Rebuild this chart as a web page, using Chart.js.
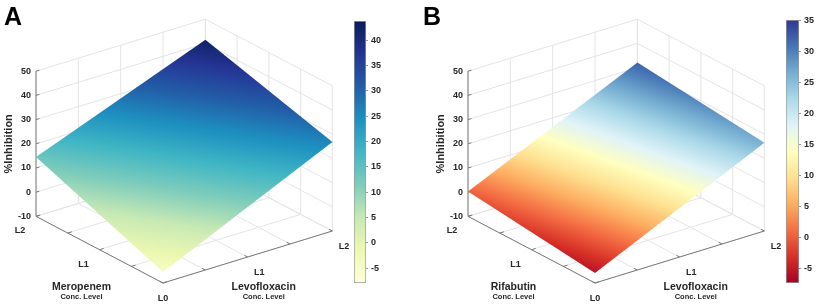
<!DOCTYPE html>
<html>
<head>
<meta charset="utf-8">
<script src="https://cdn.jsdelivr.net/npm/chart.js@4.4.1/dist/chart.umd.min.js"></script>
<style>
  body { margin: 0; background: #fff; }
  #wrap { position: relative; width: 819px; height: 307px; }
  canvas { position: absolute; top: 0; }
</style>
</head>
<body>
<div id="wrap">
  <canvas id="main" width="819" height="307" style="left:0"></canvas>
  <canvas id="cbarA" width="50" height="307" style="left:354px"></canvas>
  <canvas id="cbarB" width="50" height="307" style="left:786px"></canvas>
</div>
<script>
// ---- data ----
const levelLabels = ["L0", "L1", "L2"];
const levelPos = [0, 1, 2];
const gridPos = [0, 0.5, 1, 1.5, 2];
const zTicks = [-10, 0, 10, 20, 30, 40, 50];
const zMin = -10, zMax = 50;

// surface %inhibition at corner levels: rows = drug L0, L2 ; cols = Levofloxacin L0, L2
const cornerPos = [0, 2];
const meropenemZ = [[-5.5, 26.8], [14.5, 41.5]];
const rifabutinZ = [[-5.9, 26.5], [0.3, 32.1]];

// colour limits + colourbar ticks
const meropenemClim = [-7.9, 43.8];
const rifabutinClim = [-7.4, 35.1];
const cbarTicksA = [-5, 0, 5, 10, 15, 20, 25, 30, 35, 40];
const cbarTicksB = [-5, 0, 5, 10, 15, 20, 25, 30, 35];

// colormaps (low -> high)
const YLGNBU = ["#ffffd9", "#edf8b1", "#c7e9b4", "#7fcdbb", "#41b6c4", "#1d91c0", "#225ea8", "#253494", "#081d58"];
const RDYLBU = ["#a50026", "#d73027", "#f46d43", "#fdae61", "#fee090", "#ffffbf", "#e0f3f8", "#abd9e9", "#74add1", "#4575b4", "#313695"];

const FONT = "'Liberation Sans', Arial, sans-serif";
Chart.defaults.font.family = FONT;

// ---- 3d view (orthographic, px per unit) ----
const EU = [-63.5, -33.3];   // drug level axis
const EV = [84.7, -26.0];    // levofloxacin level axis
const EZ = 2.42;             // per %inhibition unit

const panels = [
  { ox: 163, oy: 283, drug: "Meropenem", z: meropenemZ, clim: meropenemClim, cmap: YLGNBU, letter: "A", letterX: 4 },
  { ox: 595, oy: 283, drug: "Rifabutin", z: rifabutinZ, clim: rifabutinClim, cmap: RDYLBU, letter: "B", letterX: 423 }
];

function project(P, u, v, z) {
  return { x: P.ox + u * EU[0] + v * EV[0], y: P.oy + u * EU[1] + v * EV[1] - (z - zMin) * EZ };
}
const GAP = { x: null, y: null };

function gridData(P) {
  const d = [];
  zTicks.forEach(z => { d.push(project(P, 2, 0, z), project(P, 2, 2, z), project(P, 0, 2, z), GAP); });
  gridPos.forEach(v => { d.push(project(P, 2, v, zMin), project(P, 2, v, zMax), GAP); });
  gridPos.forEach(u => { d.push(project(P, u, 2, zMin), project(P, u, 2, zMax), GAP); });
  gridPos.forEach(u => { d.push(project(P, u, 0, zMin), project(P, u, 2, zMin), GAP); });
  gridPos.forEach(v => { d.push(project(P, 0, v, zMin), project(P, 2, v, zMin), GAP); });
  return d;
}

function axisData(P) {
  const d = [];
  d.push(project(P, 2, 0, zMin), project(P, 2, 0, zMax), GAP);
  d.push(project(P, 2, 0, zMin), project(P, 0, 0, zMin), project(P, 0, 2, zMin), GAP);
  zTicks.forEach(z => { d.push(project(P, 2, 0, z), project(P, 2, 0.04, z), GAP); });
  gridPos.forEach(u => { d.push(project(P, u, 0, zMin), project(P, u, 0.05, zMin), GAP); });
  gridPos.forEach(v => { d.push(project(P, 0, v, zMin), project(P, 0.05, v, zMin), GAP); });
  return d;
}

// colour gradient from the least-squares plane z = A*x + B*y + C over the surface corners (pixel space)
function surfGradient(chart, ds) {
  if (!chart.chartArea) return null;
  const sx = chart.scales.x, sy = chart.scales.y;
  const p = ds.data.map(q => ({ x: sx.getPixelForValue(q.x), y: sy.getPixelForValue(q.y) }));
  const zs = ds.cz, n = p.length;
  const mx = p.reduce((a, q) => a + q.x, 0) / n, my = p.reduce((a, q) => a + q.y, 0) / n;
  const mz = zs.reduce((a, z) => a + z, 0) / n;
  let sxx = 0, sxy = 0, syy = 0, sxz = 0, syz = 0;
  p.forEach((q, i) => {
    const dx = q.x - mx, dy = q.y - my, dz = zs[i] - mz;
    sxx += dx * dx; sxy += dx * dy; syy += dy * dy; sxz += dx * dz; syz += dy * dz;
  });
  const det = sxx * syy - sxy * sxy;
  const A = (sxz * syy - syz * sxy) / det;
  const B = (syz * sxx - sxz * sxy) / det;
  const n2 = A * A + B * B;
  const s = (ds.clim[0] - mz) / n2, e = (ds.clim[1] - mz) / n2;
  const g = chart.ctx.createLinearGradient(mx + A * s, my + B * s, mx + A * e, my + B * e);
  ds.cmap.forEach((c, i) => g.addColorStop(i / (ds.cmap.length - 1), c));
  return g;
}

function surfaceSet(P) {
  const c = (i, j) => project(P, cornerPos[i], cornerPos[j], P.z[i][j]);
  return {
    data: [c(0, 0), c(1, 0), c(1, 1), c(0, 1)],
    cz: [P.z[0][0], P.z[1][0], P.z[1][1], P.z[0][1]],
    clim: P.clim, cmap: P.cmap,
    fill: "shape",
    backgroundColor: ctx => surfGradient(ctx.chart, ctx.dataset),
    borderWidth: 0, borderColor: "rgba(0,0,0,0)",
    pointRadius: 0, tension: 0, order: 0
  };
}

const datasets = [];
panels.forEach(P => {
  datasets.push(surfaceSet(P));
  datasets.push({ data: axisData(P), borderColor: "#7a7a7a", borderWidth: 1, pointRadius: 0, fill: false, spanGaps: false, order: 2 });
  datasets.push({ data: gridData(P), borderColor: "#e4e4e4", borderWidth: 1, pointRadius: 0, fill: false, spanGaps: false, order: 3 });
});

const labelsPlugin = {
  id: "labels3d",
  afterDraw(chart) {
    const c = chart.ctx, sx = chart.scales.x, sy = chart.scales.y;
    const px = q => ({ x: sx.getPixelForValue(q.x), y: sy.getPixelForValue(q.y) });
    c.save();
    c.fillStyle = "#262626";
    panels.forEach(P => {
      c.font = "bold 9px " + FONT;
      c.textAlign = "right"; c.textBaseline = "middle";
      zTicks.forEach(z => { const q = px(project(P, 2, 0, z)); c.fillText(String(z), q.x - 5, q.y); });
      c.textAlign = "center";
      levelPos.forEach((u, i) => {
        if (i === 0) return;
        const q = px(project(P, u, 0, zMin));
        c.fillText(levelLabels[i], q.x - 16, q.y + 14.5);
      });
      levelPos.forEach((v, i) => {
        if (i === 0) return;
        const q = px(project(P, 0, v, zMin));
        c.fillText(levelLabels[i], q.x + 11.5, q.y + 15.5);
      });
      const f = px(project(P, 0, 0, zMin));
      c.fillText(levelLabels[0], f.x, f.y + 16);

      // axis titles
      c.font = "bold 10.5px " + FONT;
      c.fillText(P.drug, f.x + EU[0] - 18, f.y + 4);
      c.fillText("Levofloxacin", f.x + EV[0] + 16, f.y + 4);
      c.font = "bold 7.5px " + FONT;
      c.fillText("Conc. Level", f.x + EU[0] - 18, f.y + 14);
      c.fillText("Conc. Level", f.x + EV[0] + 16, f.y + 14);

      const mid = px(project(P, 2, 0, (zMin + zMax) / 2));
      c.save();
      c.translate(mid.x - 27, mid.y);
      c.rotate(-Math.PI / 2);
      c.font = "bold 11px " + FONT;
      c.fillText("%Inhibition", 0, 0);
      c.restore();

      c.fillStyle = "#000";
      c.font = "bold 25px " + FONT;
      c.textAlign = "left"; c.textBaseline = "alphabetic";
      c.fillText(P.letter, P.letterX, 25);
      c.fillStyle = "#262626";
    });
    c.restore();
  }
};

new Chart(document.getElementById("main"), {
  type: "line",
  data: { datasets },
  options: {
    responsive: false,
    animation: false,
    devicePixelRatio: 1,
    layout: { padding: 0 },
    plugins: { legend: { display: false }, tooltip: { enabled: false } },
    scales: {
      x: { type: "linear", min: 0, max: 819, display: false },
      y: { type: "linear", min: 0, max: 307, reverse: true, display: false }
    }
  },
  plugins: [labelsPlugin]
});

// ---- colourbars ----
function colorbar(id, clim, cmap, ticks, top, bottom, axisW) {
  new Chart(document.getElementById(id), {
    type: "bar",
    data: {
      labels: [""],
      datasets: [{
        data: [clim],
        barPercentage: 1,
        categoryPercentage: 1,
        borderWidth: 1,
        borderColor: "#9a9a9a",
        borderSkipped: false,
        backgroundColor(ctx) {
          const ch = ctx.chart;
          if (!ch.chartArea) return null;
          const y = ch.scales.y;
          const g = ch.ctx.createLinearGradient(0, y.getPixelForValue(clim[0]), 0, y.getPixelForValue(clim[1]));
          cmap.forEach((c, i) => g.addColorStop(i / (cmap.length - 1), c));
          return g;
        }
      }]
    },
    options: {
      responsive: false,
      animation: false,
      devicePixelRatio: 1,
      layout: { padding: { top: top, bottom: bottom, left: 0, right: 0 } },
      plugins: { legend: { display: false }, tooltip: { enabled: false } },
      scales: {
        x: { display: false },
        y: {
          position: "right",
          min: clim[0],
          max: clim[1],
          afterBuildTicks(scale) { scale.ticks = ticks.map(v => ({ value: v })); },
          afterFit(scale) { scale.width = axisW; },
          ticks: { color: "#262626", font: { size: 9, weight: "bold" }, padding: 3 },
          grid: { drawOnChartArea: false, tickLength: 2, color: "#9a9a9a" },
          border: { display: false }
        }
      }
    }
  });
}
colorbar("cbarA", meropenemClim, YLGNBU, cbarTicksA, 21, 24, 38);
colorbar("cbarB", rifabutinClim, RDYLBU, cbarTicksB, 20, 24, 37);
</script>
</body>
</html>
